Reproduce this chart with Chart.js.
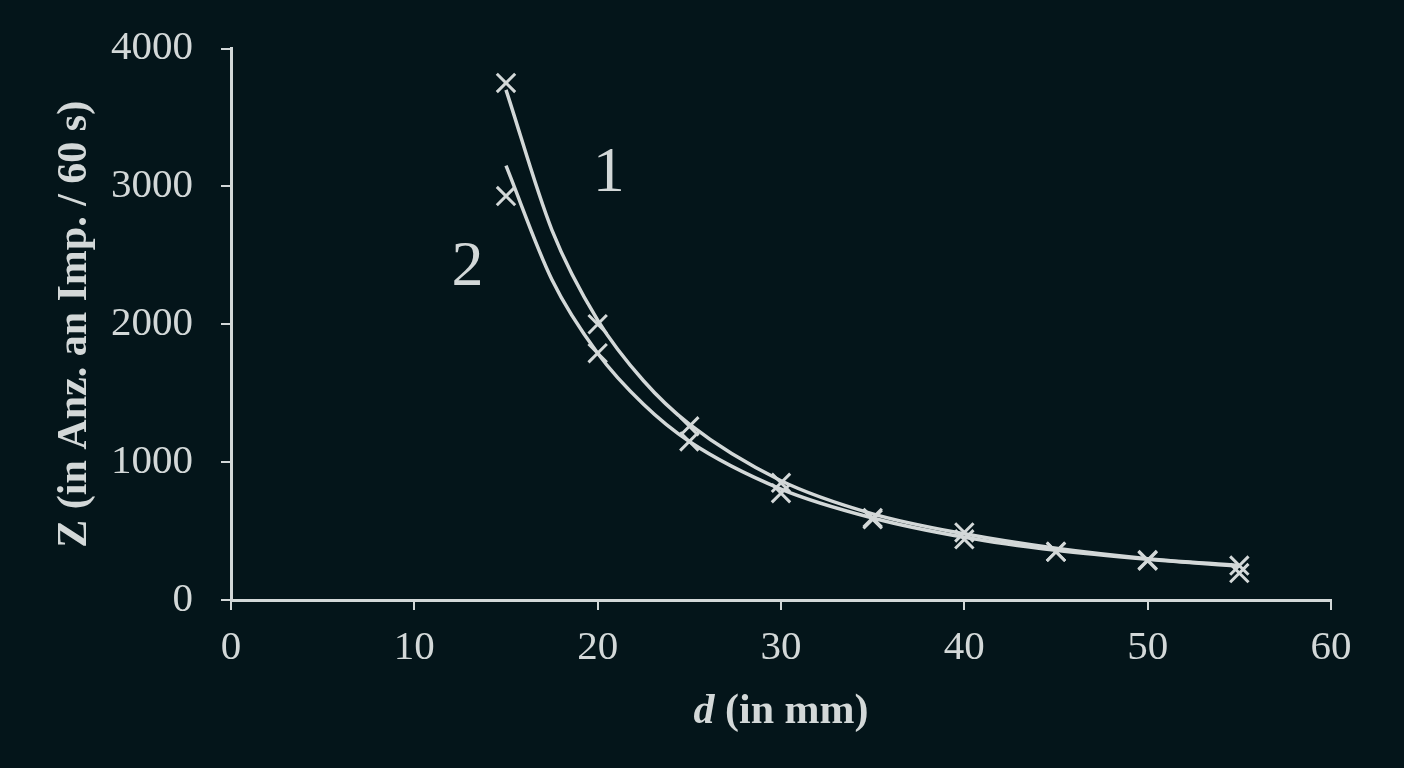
<!DOCTYPE html>
<html>
<head>
<meta charset="utf-8">
<script src="https://cdn.jsdelivr.net/npm/chart.js@4/dist/chart.umd.min.js"></script>
<style>
  html, body { margin: 0; padding: 0; background: #04151a; }
  #wrap { width: 1404px; height: 768px; }
</style>
</head>
<body>
<div id="wrap"><canvas id="chart" width="1404" height="768"></canvas></div>
<script>
// measured points (d in mm, Z counts per 60 s)
var distances = [15, 20, 25, 30, 35, 40, 45, 50, 55];
var counts1 = [3750, 2000, 1260, 850, 595, 490, 350, 290, 250];
var counts2 = [2930, 1790, 1150, 775, 585, 440, 350, 285, 195];

// trend curves
var fitDistances = [15, 17.5, 20, 22.5, 25, 30, 35, 40, 45, 50, 55];
var fit1 = [3700, 2685, 2030, 1590, 1275, 865, 625, 480, 375, 300, 250];
var fit2 = [3150, 2325, 1790, 1420, 1150, 805, 595, 455, 360, 295, 245];

var xTicks = [0, 10, 20, 30, 40, 50, 60];
var yTicks = [0, 1000, 2000, 3000, 4000];

var curveLabels = ['1', '2'];
var curveLabelAt = [[20.6, 3090], [12.9, 2410]];

var ink = '#d3d8d8';
var serif = '"Liberation Serif", "DejaVu Serif", serif';

function pts(xs, ys) {
  var out = [];
  for (var i = 0; i < xs.length; i++) out.push({ x: xs[i], y: ys[i] });
  return out;
}

// draws the "1" / "2" curve labels and the x axis title (italic d)
var extraText = {
  id: 'extraText',
  afterDraw: function(chart) {
    var ctx = chart.ctx;
    var xs = chart.scales.x, ys = chart.scales.y;
    ctx.save();
    ctx.fillStyle = ink;
    ctx.textAlign = 'center';
    ctx.textBaseline = 'middle';
    ctx.font = '64px ' + serif;
    for (var i = 0; i < curveLabels.length; i++) {
      ctx.fillText(curveLabels[i], xs.getPixelForValue(curveLabelAt[i][0]), ys.getPixelForValue(curveLabelAt[i][1]));
    }
    // x title
    var cx = (chart.chartArea.left + chart.chartArea.right) / 2;
    var ty = 712;
    ctx.font = 'italic bold 42px ' + serif;
    var w1 = ctx.measureText('d').width;
    ctx.font = 'bold 42px ' + serif;
    var w2 = ctx.measureText(' (in mm)').width;
    var sx = cx - (w1 + w2) / 2;
    ctx.textAlign = 'left';
    ctx.font = 'italic bold 42px ' + serif;
    ctx.fillText('d', sx, ty);
    ctx.font = 'bold 42px ' + serif;
    ctx.fillText(' (in mm)', sx + w1, ty);
    ctx.restore();
  }
};

var ctx = document.getElementById('chart').getContext('2d');
var chart = new Chart(ctx, {
  type: 'scatter',
  data: {
    datasets: [
      {
        label: 'Kurve 1',
        data: pts(fitDistances, fit1),
        showLine: true,
        borderColor: ink,
        borderWidth: 3.5,
        pointRadius: 0,
        cubicInterpolationMode: 'monotone'
      },
      {
        label: 'Kurve 2',
        data: pts(fitDistances, fit2),
        showLine: true,
        borderColor: ink,
        borderWidth: 3.5,
        pointRadius: 0,
        cubicInterpolationMode: 'monotone'
      },
      {
        label: 'Messung 1',
        data: pts(distances, counts1),
        pointStyle: 'crossRot',
        pointRadius: 13,
        pointBorderWidth: 3,
        borderColor: ink
      },
      {
        label: 'Messung 2',
        data: pts(distances, counts2),
        pointStyle: 'crossRot',
        pointRadius: 13,
        pointBorderWidth: 3,
        borderColor: ink
      }
    ]
  },
  options: {
    responsive: false,
    animation: false,
    layout: { padding: { top: 47, right: 73, left: 0, bottom: 0 } },
    plugins: {
      legend: { display: false },
      tooltip: { enabled: false }
    },
    scales: {
      x: {
        type: 'linear',
        min: 0,
        max: 60,
        afterBuildTicks: function(s) { s.ticks = xTicks.map(function(v) { return { value: v }; }); },
        afterFit: function(s) { s.height = 168; },
        border: { display: true, color: ink, width: 3 },
        grid: { display: true, drawOnChartArea: false, drawTicks: true, tickLength: 10, color: ink, lineWidth: 2 },
        ticks: { color: ink, font: { family: serif, size: 41 }, padding: 14, maxRotation: 0,
                 callback: function(v) { return String(v); } }
      },
      y: {
        type: 'linear',
        min: 0,
        max: 4000,
        afterBuildTicks: function(s) { s.ticks = yTicks.map(function(v) { return { value: v }; }); },
        afterFit: function(s) { s.width = 231; },
        border: { display: true, color: ink, width: 3 },
        grid: { display: true, drawOnChartArea: false, drawTicks: true, tickLength: 10, color: ink, lineWidth: 2 },
        ticks: { color: ink, font: { family: serif, size: 41, lineHeight: 1 }, padding: 28,
                 callback: function(v) { return String(v); } },
        title: {
          display: true,
          text: 'Z (in Anz. an Imp. / 60 s)',
          color: ink,
          font: { family: serif, size: 42, weight: 'bold' },
          padding: { top: 50, bottom: 0 }
        }
      }
    }
  },
  plugins: [extraText]
});
</script>
</body>
</html>
